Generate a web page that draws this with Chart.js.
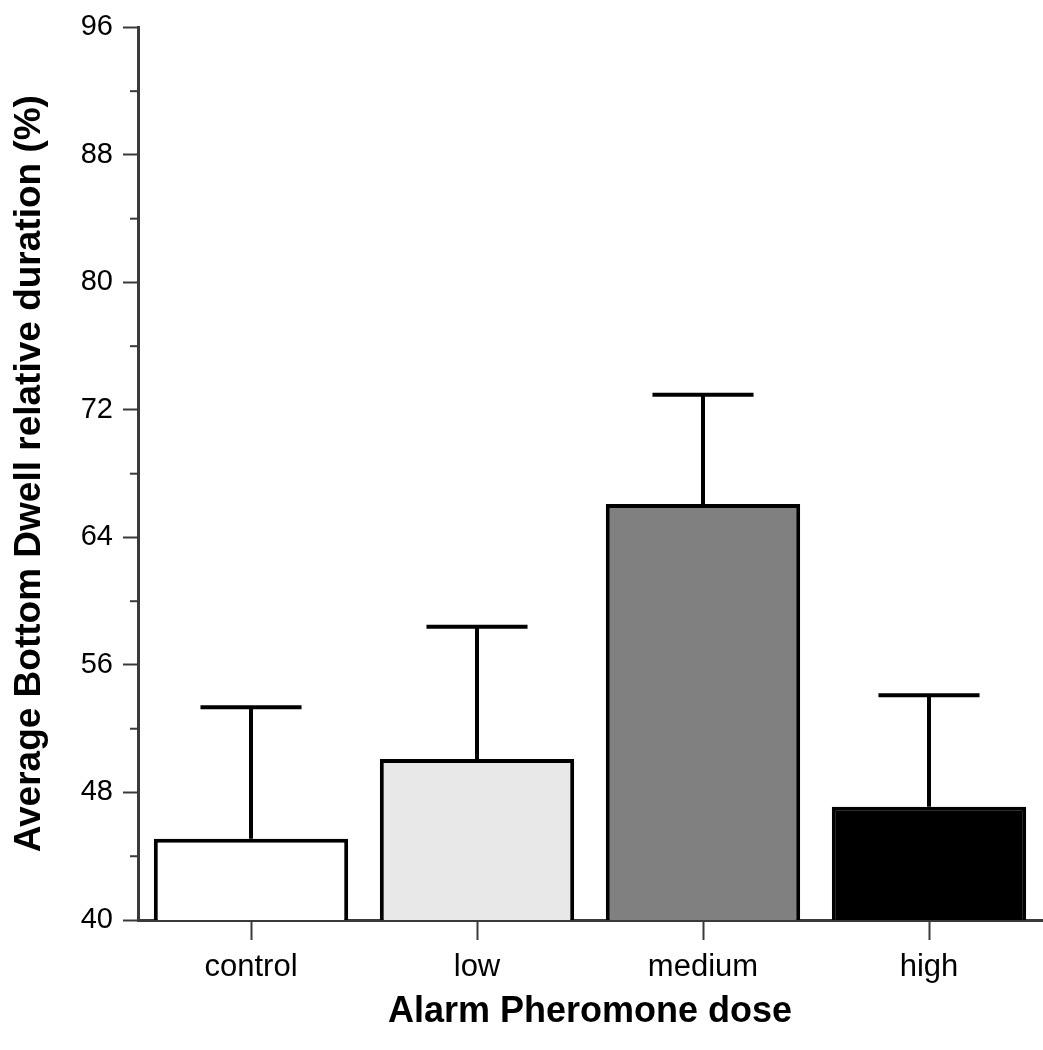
<!DOCTYPE html>
<html>
<head>
<meta charset="utf-8">
<script src="https://cdn.jsdelivr.net/npm/chart.js@4.4.1/dist/chart.umd.min.js"></script>
<style>
  body { margin: 0; background: #fff; }
  canvas { display: block; }
</style>
</head>
<body>
<canvas id="doseChart" width="1043" height="1050"></canvas>
<script>
// data
var doses = ['control', 'low', 'medium', 'high'];
var meanDwell = [45.1, 50.1, 66.1, 47.1];
var errDwell = [8.25, 8.3, 6.85, 7.0];
var barColors = ['#ffffff', '#e8e8e8', '#808080', '#000000'];
var yTicks = [40, 48, 56, 64, 72, 80, 88, 96];
var yMinorTicks = [44, 52, 60, 68, 76, 84, 92];

var axisColor = '#3a3a3a';
var fontFamily = '"Liberation Sans", Arial, Helvetica, sans-serif';

// error bars (upper only) + minor ticks on the y axis
var errorBars = {
    id: 'errorBars',
    afterDatasetsDraw: function (chart) {
        var ctx = chart.ctx;
        var yScale = chart.scales.y;
        var meta = chart.getDatasetMeta(0);
        ctx.save();
        ctx.strokeStyle = '#000';
        ctx.lineWidth = 4;
        meta.data.forEach(function (bar, i) {
            var top = yScale.getPixelForValue(meanDwell[i] + errDwell[i]);
            var half = bar.width * 0.26;
            ctx.beginPath();
            ctx.moveTo(bar.x, bar.y);
            ctx.lineTo(bar.x, top);
            ctx.moveTo(bar.x - half, top);
            ctx.lineTo(bar.x + half, top);
            ctx.stroke();
        });
        ctx.restore();
    },
    afterDraw: function (chart) {
        var ctx = chart.ctx;
        var yScale = chart.scales.y;
        var left = chart.chartArea.left;
        ctx.save();
        ctx.strokeStyle = axisColor;
        ctx.lineWidth = 2;
        yMinorTicks.forEach(function (v) {
            var py = yScale.getPixelForValue(v);
            ctx.beginPath();
            ctx.moveTo(left - 8, py);
            ctx.lineTo(left, py);
            ctx.stroke();
        });
        ctx.restore();
    }
};

var ctx = document.getElementById('doseChart').getContext('2d');
new Chart(ctx, {
    type: 'bar',
    data: {
        labels: doses,
        datasets: [{
            data: meanDwell,
            backgroundColor: barColors,
            borderColor: '#000',
            borderWidth: 4,
            borderSkipped: false,
            categoryPercentage: 1,
            barPercentage: 0.86
        }]
    },
    options: {
        responsive: false,
        animation: false,
        devicePixelRatio: 1,
        layout: {padding: {top: 24, right: 1, left: 0, bottom: 0}},
        plugins: {legend: {display: false}, tooltip: {enabled: false}},
        scales: {
            x: {
                afterFit: function (s) { s.height = 130; },
                grid: {
                    drawOnChartArea: false,
                    offset: false,
                    tickLength: 20,
                    tickColor: axisColor,
                    tickWidth: 2
                },
                border: {color: axisColor, width: 3},
                ticks: {
                    color: '#000',
                    padding: 9,
                    font: {family: fontFamily, size: 31}
                },
                title: {
                    display: true,
                    text: 'Alarm Pheromone dose',
                    color: '#000',
                    padding: {top: 0, bottom: 16},
                    font: {family: fontFamily, size: 36, weight: 'bold'}
                }
            },
            y: {
                min: 40,
                max: 96,
                afterFit: function (s) { s.width = 138; },
                afterBuildTicks: function (s) {
                    s.ticks = yTicks.map(function (v) { return {value: v}; });
                },
                grid: {
                    drawOnChartArea: false,
                    tickLength: 15,
                    tickColor: axisColor,
                    tickWidth: 2
                },
                border: {color: axisColor, width: 3},
                ticks: {
                    color: '#000',
                    padding: 10,
                    font: {family: fontFamily, size: 29}
                },
                title: {
                    display: true,
                    text: 'Average Bottom Dwell relative duration (%)',
                    color: '#000',
                    padding: {top: 8, bottom: 0},
                    font: {family: fontFamily, size: 37, weight: 'bold'}
                }
            }
        }
    },
    plugins: [errorBars]
});
</script>
</body>
</html>
